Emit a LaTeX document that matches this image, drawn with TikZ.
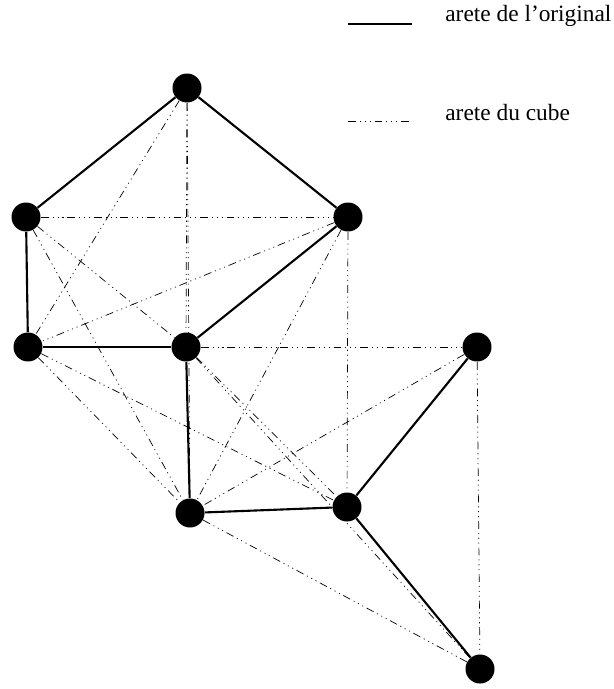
\documentclass[tikz,border=0pt]{standalone}
\usepackage{fontspec}
\setmainfont{Liberation Serif}
\usetikzlibrary{positioning}

\begin{document}
\begin{tikzpicture}[
x=0.02cm, y=-0.02cm,
vertex/.style={circle, fill=black, inner sep=0pt, minimum size=0.58cm},
orig/.style={line width=1.2pt},
cube/.style={line width=0.4pt, dash pattern=on 4.5pt off 2.2pt on 0.6pt off 2.2pt on 0.6pt off 2.2pt on 0.6pt off 2.2pt},
legend/.style={anchor=base west, inner sep=0pt, font=\fontsize{13.3}{16}\selectfont}
]
\useasboundingbox (0,0) rectangle (614,689);

% sommets
\node[vertex] (a) at (187,88) {};
\node[vertex] (b) at (26,217) {};
\node[vertex] (c) at (348,217) {};
\node[vertex] (d) at (28,347) {};
\node[vertex] (e) at (186,347) {};
\node[vertex] (f) at (477,347) {};
\node[vertex] (g) at (190,513) {};
\node[vertex] (h) at (347,507) {};
\node[vertex] (i) at (480,669) {};

% aretes du cube
\draw[cube] (a) -- (d);
\draw[cube] (a) -- (e);
\draw[cube] (a) -- (g);
\draw[cube] (b) -- (c);
\draw[cube] (b) -- (e);
\draw[cube] (b) -- (g);
\draw[cube] (c) -- (d);
\draw[cube] (c) -- (g);
\draw[cube] (c) -- (h);
\draw[cube] (d) -- (g);
\draw[cube] (d) -- (h);
\draw[cube] (e) -- (f);
\draw[cube] (e) -- (h);
\draw[cube] (e) -- (i);
\draw[cube] (f) -- (g);
\draw[cube] (f) -- (i);
\draw[cube] (g) -- (i);

% aretes de l'original
\draw[orig] (a) -- (b);
\draw[orig] (a) -- (c);
\draw[orig] (b) -- (d);
\draw[orig] (d) -- (e);
\draw[orig] (e) -- (c);
\draw[orig] (e) -- (g);
\draw[orig] (g) -- (h);
\draw[orig] (h) -- (f);
\draw[orig] (h) -- (i);

% legende
\coordinate (l1a) at (348,24);
\coordinate (l1b) at (412,24);
\coordinate (l2a) at (348,121);
\coordinate (l2b) at (412,121);
\draw[orig] (l1a) -- (l1b);
\draw[cube] (l2a) -- (l2b);
\node[legend] (t1) at (445,22) {arete de l'original};
\node[legend] (t2) at (445,121) {arete du cube};
\end{tikzpicture}
\end{document}
